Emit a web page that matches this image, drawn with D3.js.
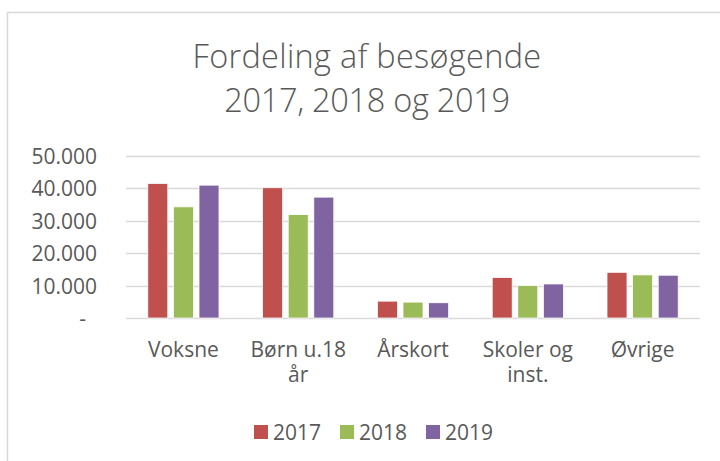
<!DOCTYPE html>
<html>
<head>
<meta charset="utf-8">
<script src="https://cdn.jsdelivr.net/npm/d3@7"></script>
<style>
    body { margin: 0; background: #fff; }
    svg { display: block; font-family: "Open Sans", sans-serif; }
</style>
</head>
<body>
<div id="chart"></div>
<script>
// data
var categories = ["Voksne", "Børn u.18 år", "Årskort", "Skoler og inst.", "Øvrige"];
var years = ["2017", "2018", "2019"];
var values2017 = [41500, 40200, 5200, 12500, 14100];
var values2018 = [34300, 31900, 4900, 10000, 13300];
var values2019 = [41000, 37300, 4700, 10500, 13200];
var yTicks = [0, 10000, 20000, 30000, 40000, 50000];
var titleLines = ["Fordeling af besøgende", "2017, 2018 og 2019"];

var seriesValues = [values2017, values2018, values2019];
var colors = d3.scaleOrdinal().domain(years).range(["#C0504D", "#9BBB59", "#8064A2"]);

var width = 720, height = 461;
var margin = {top: 156, right: 20, bottom: 143, left: 126};
var textColor = "#595959";

var svg = d3.select("#chart")
    .append("svg")
    .attr("width", width)
    .attr("height", height);

// рамка діаграми
svg.append("rect")
    .attr("x", 7.5)
    .attr("y", 12.5)
    .attr("width", 730)
    .attr("height", 470)
    .attr("fill", "none")
    .attr("stroke", "#d9d9d9")
    .attr("stroke-width", 1.5);

// title
svg.append("text")
    .attr("text-anchor", "middle")
    .attr("fill", textColor)
    .style("font-size", "32.5px")
    .style("font-weight", 300)
    .selectAll("tspan")
    .data(titleLines)
    .enter()
    .append("tspan")
    .attr("x", 367)
    .attr("y", function(d, i) { return 68 + i * 44; })
    .style("letter-spacing", function(d, i) { return i === 0 ? "0.3px" : "-0.3px"; })
    .text(function(d) { return d; });

var x = d3.scaleBand()
    .domain(categories)
    .range([margin.left, width - margin.right])
    .paddingInner(0.38)
    .paddingOuter(0.19);

var xSub = d3.scaleBand()
    .domain(years)
    .range([0, x.bandwidth()])
    .paddingInner(0.22);

var y = d3.scaleLinear()
    .domain([0, 50000])
    .range([height - margin.bottom, margin.top]);

var locale = d3.formatLocale({decimal: ",", thousands: ".", grouping: [3], currency: ["", ""]});
var fmt = locale.format(",");

// gridlines
svg.append("g")
    .selectAll("line")
    .data(yTicks)
    .enter()
    .append("line")
    .attr("x1", margin.left)
    .attr("x2", width - margin.right)
    .attr("y1", function(d) { return Math.round(y(d)) + 0.5; })
    .attr("y2", function(d) { return Math.round(y(d)) + 0.5; })
    .attr("stroke", "#d9d9d9")
    .attr("stroke-width", 1.5);

// y axis
var yAxis = svg.append("g")
    .attr("transform", "translate(97,0)")
    .call(d3.axisLeft(y)
        .tickValues(yTicks)
        .tickSize(0)
        .tickPadding(0)
        .tickFormat(function(d) { return d === 0 ? "-\u00a0\u00a0" : fmt(d); }));
yAxis.select(".domain").remove();
yAxis.selectAll("text")
    .style("font-size", "21px")
    .style("font-family", "Open Sans")
    .attr("fill", textColor)
    .attr("dy", "0.36em");

// bars
var groups = svg.append("g")
    .selectAll("g")
    .data(categories)
    .enter()
    .append("g")
    .attr("transform", function(d) { return "translate(" + x(d) + ",0)"; });

groups.selectAll("rect")
    .data(function(d, i) {
        return years.map(function(yr, j) { return {year: yr, value: seriesValues[j][i]}; });
    })
    .enter()
    .append("rect")
    .attr("x", function(d) { return xSub(d.year); })
    .attr("y", function(d) { return y(d.value); })
    .attr("width", xSub.bandwidth())
    .attr("height", function(d) { return y(0) - y(d.value); })
    .attr("fill", function(d) { return colors(d.year); })
    .attr("stroke", "#fff")
    .attr("stroke-width", 0.75);

// x axis labels
var xAxis = svg.append("g")
    .attr("transform", "translate(0," + 338 + ")")
    .call(d3.axisBottom(x).tickSize(0).tickPadding(0));
xAxis.select(".domain").remove();
xAxis.selectAll("text")
    .style("font-size", "21px")
    .style("font-family", "Open Sans")
    .attr("fill", textColor)
    .attr("dy", "0.9em")
    .call(wrap, 110);

// legend
var legendX = d3.scaleBand()
    .domain(years)
    .range([254, 512]);

var legend = svg.append("g")
    .selectAll("g")
    .data(years)
    .enter()
    .append("g")
    .attr("transform", function(d) { return "translate(" + legendX(d) + ",425)"; });

legend.append("rect")
    .attr("width", 14)
    .attr("height", 14)
    .attr("fill", function(d) { return colors(d); });

legend.append("text")
    .attr("x", 19)
    .attr("y", 14.5)
    .attr("fill", textColor)
    .style("font-size", "21px")
    .text(function(d) { return d; });

function wrap(text, width) {
    text.each(function () {
        var text = d3.select(this),
            words = text.text().split(/\s+/).reverse(),
            word,
            line = [],
            lineHeight = 1.2,
            dy = parseFloat(text.attr("dy")),
            tspan = text.text(null).append("tspan").attr("x", 0).attr("dy", dy + "em");
        while (word = words.pop()) {
            line.push(word);
            tspan.text(line.join(" "));
            if (tspan.node().getComputedTextLength() > width && line.length > 1) {
                line.pop();
                tspan.text(line.join(" "));
                line = [word];
                tspan = text.append("tspan")
                    .attr("x", 0)
                    .attr("dy", lineHeight + "em")
                    .text(word);
            }
        }
    });
}
</script>
</body>
</html>
